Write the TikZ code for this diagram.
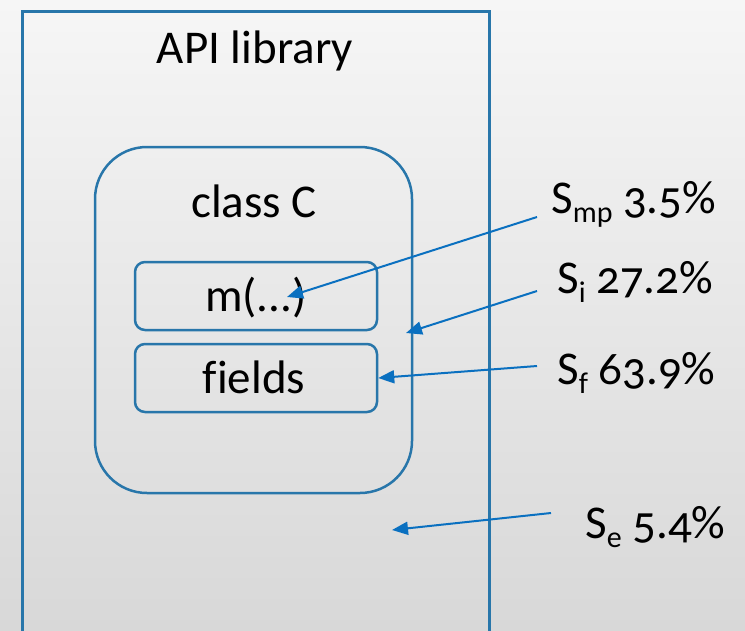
\documentclass[tikz,border=0pt]{standalone}
\usepackage{fontspec}
\setmainfont{Carlito}[Numbers=OldStyle,Ligatures=NoCommon]
\usetikzlibrary{arrows.meta}
\definecolor{frameblue}{RGB}{40,118,170}
\definecolor{arrowblue}{RGB}{10,112,192}
\definecolor{bgtop}{RGB}{246,246,246}
\definecolor{bgbot}{RGB}{216,216,216}
\newcommand\lowsub[1]{\raisebox{-0.2em}{\fontsize{30}{30}\selectfont #1}}
\begin{document}
\begin{tikzpicture}[x=1pt,y=-1pt,
  big/.style={font=\fontsize{47}{56}\selectfont},
  box/.style={draw=frameblue,line width=2.5pt,inner sep=0pt},
  share/.style={big,anchor=base west,inner sep=0pt},
  arr/.style={draw=arrowblue,line width=2pt,-{Triangle[length=16pt,width=13pt]}}]
  % page and background
  \shade[top color=bgtop,bottom color=bgbot] (0,0) rectangle (745,630);
  \useasboundingbox (0,0) rectangle (745,630);
  \clip (0,0) rectangle (745,630);
  % library frame (runs off the bottom)
  \node[box,line width=3pt,anchor=north west,minimum width=467pt,minimum height=660pt] (lib) at (21,10) {};
  \node[big,anchor=base] (libtxt) at (255,63) {API library};
  % class and its members
  \node[box,rounded corners=52pt,minimum width=317pt,minimum height=346pt] (cls) at (253.5,320) {};
  \node[big,anchor=base] (clstxt) at (254,217) {class C};
  \node[box,rounded corners=10pt,minimum width=242pt,minimum height=68pt] (mbox) at (256,296) {};
  \node[big,anchor=base] (mtxt) at (256,311) {m(...)};
  \node[box,rounded corners=10pt,minimum width=242pt,minimum height=68pt] (fbox) at (256,378) {};
  \node[big,anchor=base] (ftxt) at (254,393) {fields};
  % share labels
  \node[share] (lmp) at (551,213) {S\lowsub{mp} 3.5\%};
  \node[share] (li)  at (557,293) {S\lowsub{i} 27.2\%};
  \node[share] (lf)  at (557,384) {S\lowsub{f} 63.9\%};
  \node[share] (le)  at (585,538) {S\lowsub{e} 5.4\%};
  % arrow ends
  \coordinate (smp) at (537,217);
  \coordinate (si)  at (537,291);
  \coordinate (sf)  at (537,366);
  \coordinate (se)  at (551,513);
  \coordinate (tmp) at (287,297);
  \coordinate (ti)  at (406,333);
  \coordinate (te)  at (392,530);
  \draw[arr] (smp) -- (tmp);
  \draw[arr] (si) -- (ti);
  \draw[arr] (sf) -- (fbox.east);
  \draw[arr] (se) -- (te);
\end{tikzpicture}
\end{document}
